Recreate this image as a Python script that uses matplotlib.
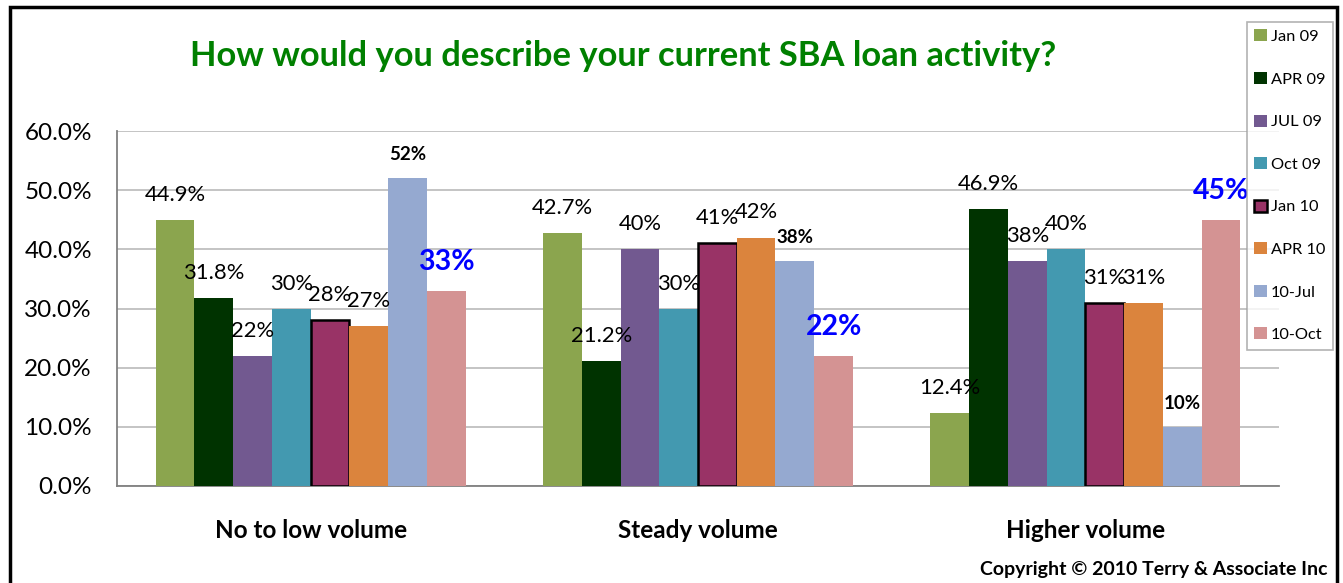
import matplotlib.pyplot as plt
from matplotlib.patches import Rectangle
from matplotlib.ticker import PercentFormatter
import numpy as np

plt.rcParams['font.family'] = ['Lato', 'DejaVu Sans']

categories = ['No to low volume', 'Steady volume', 'Higher volume']
series = ['Jan 09', 'APR 09', 'JUL 09', 'Oct 09', 'Jan 10', 'APR 10', '10-Jul', '10-Oct']
jan09 = [44.9, 42.7, 12.4]
apr09 = [31.8, 21.2, 46.9]
jul09 = [22, 40, 38]
oct09 = [30, 30, 40]
jan10 = [28, 41, 31]
apr10 = [27, 42, 31]
jul10 = [52, 38, 10]
oct10 = [33, 22, 45]
labels_fmt = ['{:.1f}%', '{:.1f}%', '{:.0f}%', '{:.0f}%', '{:.0f}%', '{:.0f}%', '{:.0f}%', '{:.0f}%']
colors = ['#8BA54E', '#003300', '#725990', '#4399B0', '#993366', '#DB843D', '#95A9D0', '#D49393']

values = [jan09, apr09, jul09, oct09, jan10, apr10, jul10, oct10]

fig = plt.figure(figsize=(13.43, 5.83), dpi=100)
ax = fig.add_axes([117 / 1343, 97 / 583, 1162 / 1343, 355 / 583])

x = np.arange(len(categories))
w = 0.1
handles = []
for i, (name, vals, col) in enumerate(zip(series, values, colors)):
    pos = x - 0.35 + i * w
    # Jan 10 bars have a black outline
    edge = 'black' if name == 'Jan 10' else col
    lw = 1.8 if name == 'Jan 10' else 0
    bars = ax.bar(pos, vals, width=w, color=col, edgecolor=edge, linewidth=lw,
                  label=name, zorder=3)
    handles.append(bars)
    for p, v in zip(pos, vals):
        txt = labels_fmt[i].format(v)
        if name == '10-Oct':
            ax.annotate(txt, (p, v), xytext=(0, 21), textcoords='offset points',
                        ha='center', va='center', fontsize=20.5, fontweight='bold',
                        color='#0000FF', zorder=5)
        elif name == '10-Jul':
            ax.annotate(txt, (p, v), xytext=(0, 17), textcoords='offset points',
                        ha='center', va='center', fontsize=13.5, fontweight='bold',
                        color='black', zorder=5)
        else:
            ax.annotate(txt, (p, v), xytext=(0, 18), textcoords='offset points',
                        ha='center', va='center', fontsize=15.8, color='black', zorder=5)

ax.set_xlim(-0.5, 2.5)
ax.set_ylim(0, 60)
ax.set_yticks(np.arange(0, 61, 10))
ax.yaxis.set_major_formatter(PercentFormatter(decimals=1))
ax.grid(axis='y', color='#BFBFBF', linewidth=1.3, zorder=0)
ax.set_xticks(x)
ax.set_xticklabels(categories, fontsize=17.5, fontweight='bold')
ax.tick_params(axis='x', length=0, pad=24)
ax.tick_params(axis='y', labelsize=17.5, length=0, pad=18)
for s in ['top', 'right']:
    ax.spines[s].set_visible(False)
for s in ['left', 'bottom']:
    ax.spines[s].set_color('#808080')
    ax.spines[s].set_linewidth(1.3)

fig.text(623 / 1343, 1 - 56 / 583, 'How would you describe your current SBA loan activity?',
         ha='center', va='center', fontsize=24.8, fontweight='bold', color='#008000')

fig.text(1328 / 1343, 1 - 569 / 583, 'Copyright \u00a9 2010 Terry & Associate Inc',
         ha='right', va='center', fontsize=14, fontweight='bold', color='black')

leg = fig.legend(handles=handles, labels=series, loc='upper left',
                 bbox_to_anchor=(1247 / 1343, 1 - 22 / 583), fontsize=11.8,
                 frameon=True, fancybox=False, edgecolor='#A0A0A0',
                 handlelength=0.75, handleheight=0.75, handletextpad=0.25,
                 labelspacing=1.7, borderpad=0.45, borderaxespad=0)
leg.get_frame().set_linewidth(1.2)

# outer black frame around the whole chart
fig.patches.append(Rectangle((10 / 1343, -0.01), 1327 / 1343, 1 - 7 / 583 + 0.01,
                             transform=fig.transFigure, fill=False,
                             edgecolor='black', linewidth=2.5, zorder=10))

fig.savefig('out.png', dpi=100)
